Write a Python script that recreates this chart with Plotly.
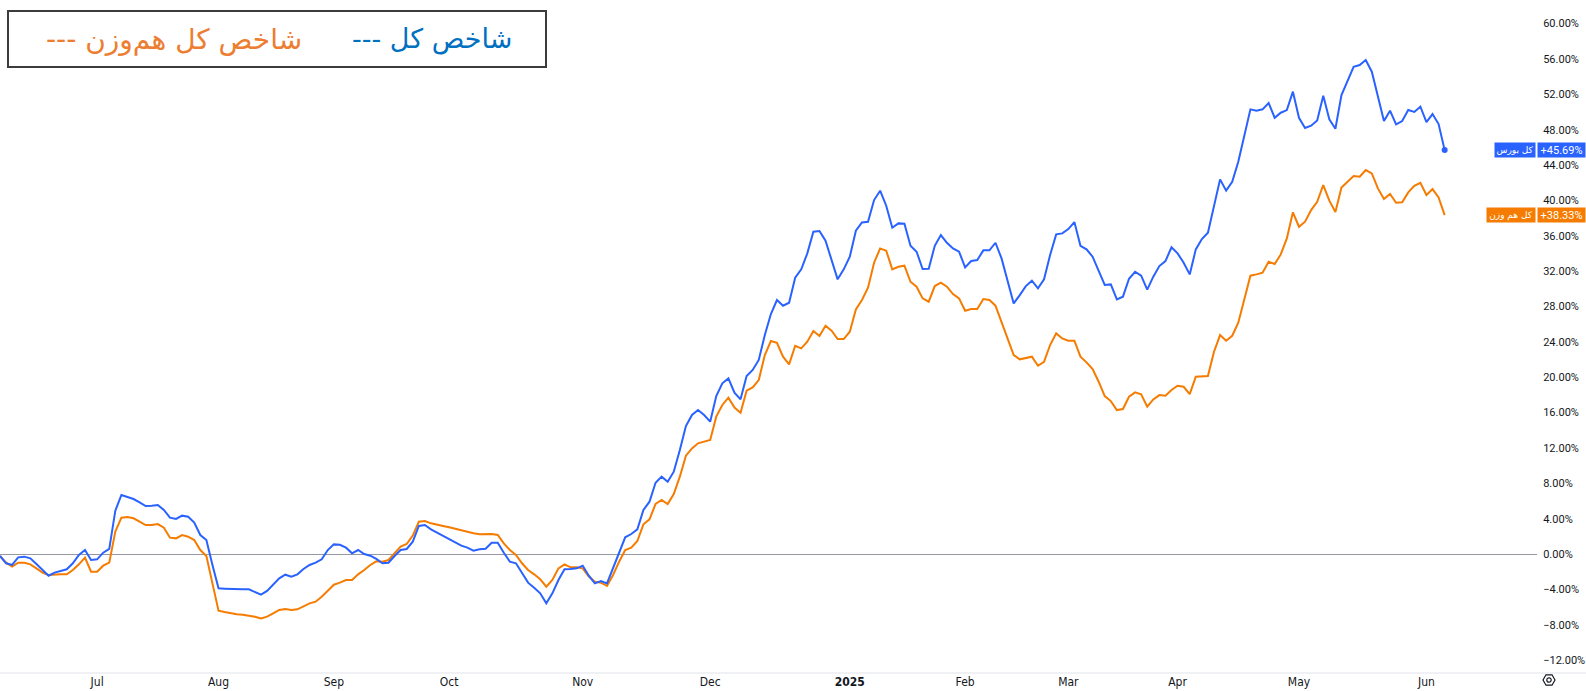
import plotly.graph_objects as go

# ---------------- data ----------------
month_labels = ["Jul", "Aug", "Sep", "Oct", "Nov", "Dec", "<b>2025</b>",
                "Feb", "Mar", "Apr", "May", "Jun"]
month_first_session = [16, 36, 55, 74, 96, 117, 140, 159, 176, 194, 214, 235]

pct_ticks = [-12, -8, -4, 0, 4, 8, 12, 16, 20, 24, 28, 32, 36, 40, 44, 48,
             52, 56, 60]

# شاخص کل (total index) - cumulative % change
total_2024 = [
    -0.22, -1.05, -1.24, -0.38, -0.30, -0.49, -1.13, -1.81, -2.45, -2.11,
    -1.88, -1.73, -1.05, -0.11, 0.45, -0.68, -0.60, 0.15, 0.57, 4.90,
    6.68, 6.49, 6.22, 5.85, 5.43, 5.47, 5.54, 4.98, 4.11, 3.96,
    4.34, 4.22, 3.55, 2.15, 1.58, -1.24, -3.88, -3.92, -3.96, -4.03,
    -4.00, -4.00, -4.26, -4.60, -4.18, -3.51, -2.75, -2.34, -2.56, -2.30,
    -1.70, -1.24, -0.98, -0.60, 0.45, 1.09, 1.05, 0.72, 0.08, 0.45,
    0.00, -0.19, -0.56, -1.05, -0.98, -0.22, 0.45, 0.57, 1.40, 3.17,
    3.28, 2.79, 2.41, 2.08, 1.70, 1.32, 0.94, 0.72, 0.38, 0.53,
    0.60, 1.28, 1.28, 0.15, -0.87, -1.05, -2.19, -3.24, -3.81, -4.45,
    -5.58, -4.45, -2.94, -1.73, -1.70, -1.62, -1.32, -2.45, -3.32, -3.05,
    -3.32, -1.62, 0.08, 1.89, 2.26, 2.79, 4.98, 5.92, 8.07, 8.75,
    8.18, 9.31, 11.77, 14.48, 15.73, 16.29, 15.73, 14.97, 17.87, 19.31,
    19.87, 18.25, 17.50, 20.14, 20.82, 21.95,
]
total_2025 = [
    24.77, 27.14, 28.73, 28.09, 28.43, 31.26, 32.20, 34.01, 36.46, 36.53,
    35.44, 33.18, 31.07, 32.20, 33.63, 36.57, 37.51, 37.59, 40.04, 41.10,
    39.40, 36.91, 37.40, 37.36, 34.87, 34.20, 32.24, 32.27, 34.87, 36.08,
    35.21, 34.57, 34.20, 32.42, 33.14, 33.25, 34.35, 34.35, 35.21, 33.44,
    30.73, 28.35, 29.29, 30.31, 30.92, 30.05, 31.07, 33.82, 36.16, 36.27,
    36.76, 37.55, 34.87, 34.46, 33.63, 32.05, 30.43, 30.50, 28.80, 29.11,
    31.14, 31.93, 31.48, 29.90, 31.37, 32.57, 33.14, 34.69, 34.01, 32.95,
    31.63, 34.46, 35.63, 36.35, 39.29, 42.38, 41.10, 42.11, 44.38, 47.28,
    50.30, 50.15, 50.30, 51.01, 49.35, 49.92, 50.22, 52.30, 49.35, 48.19,
    48.45, 49.05, 51.84, 49.17, 48.11, 51.92, 53.43, 55.12, 55.31, 55.88,
    54.56, 51.73, 48.98, 50.15, 48.60, 48.98, 50.22, 50.00, 50.60, 48.86,
    49.77, 48.64, 45.69,
]

# شاخص کل هم‌وزن (equal-weight index) - cumulative % change
equal_2024 = [
    -0.22, -0.98, -1.43, -0.98, -0.98, -1.17, -1.62, -2.11, -2.37, -2.30,
    -2.30, -2.30, -1.81, -1.17, -0.41, -2.00, -2.00, -1.32, -0.98, 2.53,
    4.11, 4.19, 4.04, 3.66, 3.28, 3.28, 3.39, 2.98, 1.85, 1.77,
    2.15, 1.96, 1.58, 0.45, -0.22, -3.32, -6.41, -6.56, -6.71, -6.82,
    -6.86, -6.94, -7.09, -7.28, -7.09, -6.71, -6.33, -6.22, -6.33, -6.26,
    -5.88, -5.58, -5.39, -4.83, -4.15, -3.47, -3.24, -2.94, -2.94, -2.30,
    -1.81, -1.24, -0.83, -0.87, -0.68, 0.08, 0.83, 1.13, 2.08, 3.66,
    3.73, 3.47, 3.28, 3.17, 3.02, 2.83, 2.64, 2.53, 2.34, 2.23,
    2.23, 2.26, 2.15, 1.21, 0.45, -0.11, -1.05, -1.81, -2.30, -2.86,
    -3.69, -2.94, -1.62, -1.17, -1.51, -1.51, -1.62, -2.56, -3.13, -3.24,
    -3.62, -2.37, -0.87, 0.45, 0.72, 1.47, 3.36, 3.92, 5.66, 6.11,
    5.66, 6.79, 8.75, 11.12, 11.95, 12.52, 12.71, 12.90, 15.54, 16.86,
    17.69, 16.56, 15.99, 18.48, 18.85, 19.68,
]
equal_2025 = [
    22.51, 24.09, 23.90, 22.32, 21.45, 23.56, 23.26, 24.01, 25.22, 24.66,
    25.82, 25.26, 24.32, 24.32, 25.15, 27.67, 28.73, 30.12, 32.95, 34.57,
    34.31, 32.20, 32.50, 32.61, 30.80, 30.24, 28.92, 28.54, 30.31, 30.69,
    30.24, 29.41, 28.92, 27.52, 27.71, 27.71, 28.84, 28.73, 28.09, 26.16,
    24.28, 22.51, 22.02, 22.13, 22.32, 21.30, 21.75, 23.64, 24.96, 24.39,
    24.13, 24.13, 22.32, 21.68, 20.92, 19.49, 17.87, 17.30, 16.28, 16.40,
    17.79, 18.28, 18.06, 16.66, 17.49, 17.98, 17.91, 18.55, 19.04, 18.92,
    18.09, 20.06, 20.06, 20.13, 22.88, 24.77, 24.13, 24.69, 26.16, 28.73,
    31.48, 31.63, 31.82, 33.06, 32.80, 33.89, 35.70, 38.65, 37.02, 37.59,
    38.91, 39.85, 41.74, 39.97, 38.68, 41.47, 42.11, 42.76, 42.68, 43.43,
    43.06, 41.36, 40.15, 40.72, 39.74, 39.78, 40.91, 41.66, 42.00, 40.61,
    41.28, 40.34, 38.33,
]

total_index = total_2024 + total_2025
equal_index = equal_2024 + equal_2025
session = list(range(len(total_index)))

total_name = "کل بورس"
equal_name = "کل هم وزن"
legend_total = "شاخص کل ---"
legend_equal = "شاخص کل هم\u200cوزن ---"

# ---------------- style ----------------
W, H = 1586, 691
ML, MR, MT, MB = 0, 49, 0, 18
PW, PH = W - ML - MR, H - MT - MB
BLUE = "#2962FF"
ORANGE = "#F57C00"
TXT = "#131722"
RLM = "\u200f"


def px(xp):
    return (xp - ML) / PW


def py(yp):
    return 1 - (yp - MT) / PH


def pct_label(v):
    s = f"{abs(v):.2f}%"
    return ("\u2212" + s) if v < 0 else s


fig = go.Figure()
fig.add_trace(go.Scatter(x=session, y=equal_index, mode="lines",
                         line=dict(color=ORANGE, width=2), name=equal_name))
fig.add_trace(go.Scatter(x=session, y=total_index, mode="lines",
                         line=dict(color=BLUE, width=2), name=total_name))
fig.add_trace(go.Scatter(x=[session[-1]], y=[total_index[-1]], mode="markers",
                         marker=dict(color=BLUE, size=6), name=total_name))

annotations = []
for val, name, col, wname in [(total_index[-1], total_name, BLUE, 40),
                              (equal_index[-1], equal_name, ORANGE, 48)]:
    annotations.append(dict(
        x=1, xref="paper", y=val, yref="y", xanchor="left", yanchor="middle",
        text=f"+{val:.2f}%", showarrow=False, bgcolor=col, width=47, height=14,
        borderpad=0, font=dict(color="white", size=11, family="Roboto")))
    annotations.append(dict(
        x=1, xref="paper", y=val, yref="y", xanchor="right", yanchor="middle",
        xshift=-1, text=RLM + name + RLM, showarrow=False, bgcolor=col,
        width=wname, height=14, borderpad=0,
        font=dict(color="white", size=9, family="DejaVu Sans")))

annotations.append(dict(
    x=px(432), xref="paper", y=py(39), yref="paper", xanchor="center",
    yanchor="middle", text=RLM + legend_total + RLM, showarrow=False,
    font=dict(color="#0070C0", size=27, family="DejaVu Sans")))
annotations.append(dict(
    x=px(174), xref="paper", y=py(39), yref="paper", xanchor="center",
    yanchor="middle", text=RLM + legend_equal + RLM, showarrow=False,
    font=dict(color="#ED7D31", size=28, family="DejaVu Sans")))

shapes = [
    dict(type="rect", xref="paper", yref="paper", x0=px(8), x1=px(546),
         y0=py(67), y1=py(11), line=dict(color="#3c3c3c", width=2),
         fillcolor="white", layer="below"),
    dict(type="line", xref="paper", yref="paper", x0=0, x1=px(W), y0=0, y1=0,
         line=dict(color="#E0E3EB", width=1)),
]
# settings icon (hexagon + circle) at bottom-right corner
cx, cy, r = 1549, 680, 6
hx = [cx + r, cx + r / 2, cx - r / 2, cx - r, cx - r / 2, cx + r / 2]
hy = [cy, cy - r * 0.87, cy - r * 0.87, cy, cy + r * 0.87, cy + r * 0.87]
path = "M " + " L ".join(f"{px(a):.5f},{py(b):.5f}" for a, b in zip(hx, hy)) + " Z"
shapes.append(dict(type="path", xref="paper", yref="paper", path=path,
                   line=dict(color=TXT, width=1.2)))
shapes.append(dict(type="circle", xref="paper", yref="paper",
                   x0=px(cx - 2.2), x1=px(cx + 2.2), y0=py(cy + 2.2),
                   y1=py(cy - 2.2), line=dict(color=TXT, width=1.2)))

fig.update_layout(
    width=W, height=H,
    margin=dict(l=ML, r=MR, t=MT, b=MB, pad=0, autoexpand=False),
    paper_bgcolor="white", plot_bgcolor="white",
    showlegend=False, hovermode=False,
    annotations=annotations, shapes=shapes,
    xaxis=dict(range=[0, PW / 6.07], tickmode="array", automargin=False,
               tickvals=month_first_session, ticktext=month_labels,
               showgrid=False, zeroline=False, showline=False, ticks="",
               tickfont=dict(size=12, color=TXT,
                             family="Liberation Sans Narrow, DejaVu Sans Condensed, Roboto Condensed, Roboto"),
               fixedrange=True),
    yaxis=dict(side="right", range=[-13.46, 62.67], tickmode="array",
               automargin=False,
               tickvals=pct_ticks, ticktext=[pct_label(v) for v in pct_ticks],
               showgrid=False, zeroline=True, zerolinecolor="#9598A1",
               zerolinewidth=1, showline=False,
               ticks="outside", ticklen=3, tickcolor="rgba(0,0,0,0)",
               tickfont=dict(size=11, color=TXT, family="Roboto"),
               fixedrange=True),
)

fig.write_html("out.html", config={"displayModeBar": False},
               post_script="document.body.style.margin='0';document.body.style.overflow='hidden';")
